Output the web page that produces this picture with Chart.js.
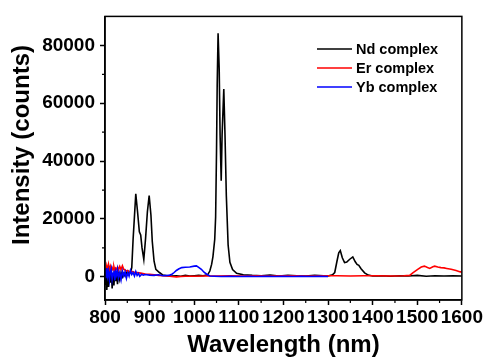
<!DOCTYPE html>
<html><head><meta charset="utf-8">
<script src="https://cdn.jsdelivr.net/npm/chart.js@4.4.0/dist/chart.umd.min.js"></script>
<style>html,body{margin:0;padding:0;background:#fff}canvas{display:block}</style>
</head><body>
<canvas id="c" width="484" height="357"></canvas>
<script>
// ---- data ----
const ndWl = [800,802,804,806,808,810,812,814,816,818,820,822,824,826,828,830,833,836,839,842,845,848,851,854,857,860,863,866,869,873,877,880,883,887,891,895,899,903,906,910,914,922,930,940,950,960,970,980,990,1000,1010,1020,1030,1035,1039,1042,1046,1048,1050,1051.5,1053.5,1056,1058,1060.5,1062.5,1066.3,1069,1072,1076,1080,1086,1095,1110,1130,1150,1170,1190,1210,1230,1250,1270,1290,1300,1310,1315,1320,1324,1327.5,1332,1337,1342,1348,1355.5,1361,1365,1369,1374,1382,1390,1400,1420,1440,1460,1480,1500,1520,1540,1560,1580,1600];
const ndVal = [-2500,2500,-4500,1500,-3500,3000,-2000,2000,-4000,1000,-3000,2500,-1500,1500,-2500,1000,-1000,1500,0,1200,300,1500,800,1800,1500,3200,13000,20800,28700,22400,15600,14500,10000,6000,13400,22400,28100,21300,12200,5400,2600,1500,600,400,300,400,200,500,300,400,500,400,700,2000,4300,7000,13000,20700,43400,66100,84200,71800,49100,33200,49100,64900,49100,28000,11000,5000,2500,1200,700,500,400,600,300,500,400,300,500,400,300,700,1500,5400,8300,9100,6600,4900,5100,6000,6900,5200,4300,4000,2800,1400,600,300,400,200,400,300,500,200,400,300,400,300];

const erWl = [800,802,804,806,808,810,812,814,816,818,820,822,824,826,828,830,833,836,839,842,845,848,851,854,857,860,866,872,880,890,900,910,920,930,940,950,960,970,980,1000,1020,1050,1080,1110,1140,1170,1200,1230,1260,1290,1320,1350,1380,1410,1440,1470,1483,1490,1501,1509,1516,1523,1528,1535,1539,1546,1553,1560,1566,1576,1587,1595,1600];
const erVal = [3000,1800,3800,2200,4200,2500,3600,2000,3200,2400,3500,2200,3000,2600,3300,2400,3600,2500,3800,2600,2400,2000,2200,1800,1700,1900,1600,1500,1300,1000,900,700,500,400,300,100,0,100,200,200,300,300,400,300,400,300,400,400,300,400,400,300,400,400,300,400,500,1400,2600,3400,3700,3200,2900,3500,3700,3400,3200,3100,2900,2600,2200,1800,1600];

const ybWl = [800,802,804,806,808,810,812,814,816,818,820,822,824,826,828,830,833,836,839,842,845,848,851,854,857,860,863,866,869,872,875,878,882,886,890,900,910,920,930,940,945,950,955,960,965,972,980,990,1000,1005,1010,1016,1022,1028,1035,1045,1060,1080,1100,1120,1140,1160,1180,1200,1220,1240,1260,1280,1300];
const ybVal = [2500,-500,3000,200,2000,-1000,1500,2800,-800,1200,2200,-1200,1800,600,2500,-300,1500,-1000,2000,300,1800,-500,1500,200,2200,800,1500,300,1800,500,1200,200,900,600,800,600,500,700,400,500,600,900,1500,2200,2700,3200,3300,3400,3700,3800,3300,2600,1600,900,300,200,100,200,100,200,100,200,100,200,100,200,100,200,100];

const seriesNames = ['Nd complex','Er complex','Yb complex'];
const xTicks = [800,900,1000,1100,1200,1300,1400,1500,1600];
const xMinorTicks = [850,950,1050,1150,1250,1350,1450,1550];
const yTicks = [0,20000,40000,60000,80000];
const yMinorTicks = [10000,30000,50000,70000];
const xTitle = 'Wavelength (nm)';
const yTitle = 'Intensity (counts)';

// ---- chart ----
const FONT = '"Liberation Sans", Arial, Helvetica, sans-serif';
const toPts = (wl, v) => wl.map((x, i) => ({x: x, y: v[i]}));

const extras = {
  id: 'extras',
  afterDraw(chart) {
    const {ctx, chartArea: a, scales: {x, y}} = chart;
    ctx.save();
    // frame
    ctx.strokeStyle = '#000';
    ctx.lineWidth = 1.5;
    ctx.strokeRect(a.left, a.top, a.right - a.left, a.bottom - a.top);
    // minor ticks
    ctx.lineWidth = 1.2;
    ctx.beginPath();
    xMinorTicks.forEach(v => { const px = x.getPixelForValue(v); ctx.moveTo(px, a.bottom); ctx.lineTo(px, a.bottom + 3); });
    yMinorTicks.forEach(v => { const py = y.getPixelForValue(v); ctx.moveTo(a.left, py); ctx.lineTo(a.left - 3, py); });
    ctx.stroke();
    // y title
    ctx.save();
    ctx.translate(22.5, 145);
    ctx.rotate(-Math.PI / 2);
    ctx.font = 'bold 24px ' + FONT;
    ctx.fillStyle = '#000';
    ctx.textAlign = 'center';
    ctx.textBaseline = 'middle';
    ctx.fillText(yTitle, 0, 0);
    ctx.restore();
    // legend
    ctx.font = 'bold 14.5px ' + FONT;
    ctx.textAlign = 'left';
    ctx.textBaseline = 'middle';
    chart.data.datasets.forEach((ds, i) => {
      const ly = 49 + i * 19;
      ctx.strokeStyle = ds.borderColor;
      ctx.lineWidth = 1.3;
      ctx.beginPath();
      ctx.moveTo(317, ly); ctx.lineTo(352, ly);
      ctx.stroke();
      ctx.fillStyle = '#000';
      ctx.fillText(ds.label, 356, ly + 1);
    });
    ctx.restore();
  }
};

new Chart(document.getElementById('c'), {
  type: 'line',
  data: {
    datasets: [
      {label: seriesNames[0], data: toPts(ndWl, ndVal), borderColor: '#000000', order: 3},
      {label: seriesNames[1], data: toPts(erWl, erVal), borderColor: '#ff0000', order: 2},
      {label: seriesNames[2], data: toPts(ybWl, ybVal), borderColor: '#0000ff', order: 1}
    ]
  },
  options: {
    responsive: false,
    animation: false,
    devicePixelRatio: 1,
    parsing: false,
    elements: {
      point: {radius: 0, hoverRadius: 0},
      line: {borderWidth: 1.6, tension: 0, fill: false}
    },
    layout: {padding: {left: 0, top: 12, right: 22, bottom: 0}},
    plugins: {legend: {display: false}, tooltip: {enabled: false}},
    scales: {
      x: {
        type: 'linear', min: 800, max: 1600,
        afterBuildTicks: s => { s.ticks = xTicks.map(v => ({value: v})); },
        afterFit: s => { s.height = 57; },
        ticks: {
          autoSkip: false, maxRotation: 0, minRotation: 0, padding: 1,
          color: '#000', font: {family: FONT, size: 19, weight: 'bold'},
          callback: v => String(v)
        },
        grid: {drawOnChartArea: false, drawTicks: true, tickLength: 5, tickWidth: 1.5, tickColor: '#000'},
        border: {display: true, color: '#000', width: 1.5},
        title: {display: true, text: xTitle, color: '#000', font: {family: FONT, size: 24, weight: 'bold', lineHeight: 1.0}, padding: {top: 0, bottom: 0}}
      },
      y: {
        type: 'linear', min: -8000, max: 90000,
        afterBuildTicks: s => { s.ticks = yTicks.map(v => ({value: v})); },
        afterFit: s => { s.width = 105; },
        ticks: {
          padding: 5, color: '#000', font: {family: FONT, size: 19, weight: 'bold'},
          callback: v => String(v)
        },
        grid: {drawOnChartArea: false, drawTicks: true, tickLength: 5, tickWidth: 1.5, tickColor: '#000'},
        border: {display: true, color: '#000', width: 1.5}
      }
    }
  },
  plugins: [extras]
});
</script>
</body></html>
